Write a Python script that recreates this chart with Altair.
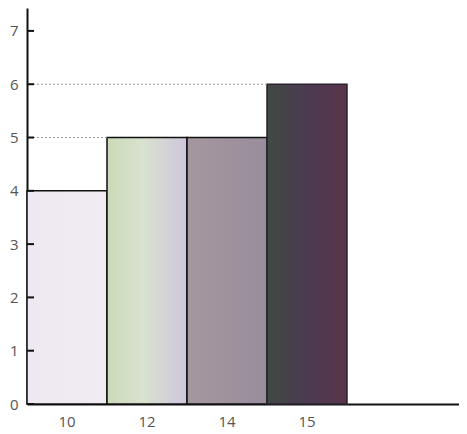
import altair as alt
import pandas as pd

# data
categories = ["10", "12", "14", "15"]
values = [4, 5, 5, 6]
y_ticks = [0, 1, 2, 3, 4, 5, 6, 7]
guide_cats = ["12", "15"]
guide_vals = [5, 6]

# styles
fills = [
    [("#eee8f2", 0), ("#f1ecf3", 1)],
    [("#cbdab8", 0), ("#d9e2cf", 0.45), ("#cfc6dd", 1)],
    [("#a4979f", 0), ("#9a8d9c", 1)],
    [("#3f4a42", 0), ("#4b3a52", 0.5), ("#5a3449", 1)],
]
strokes = ["#111", "#111", "#111", "#2a2230"]

bars_df = pd.DataFrame({"cat": categories, "val": values})
ticks_df = pd.DataFrame({"t": y_ticks})
guide_df = pd.DataFrame({"cat": guide_cats, "val": guide_vals})

FONT = "Open Sans"
xscale = alt.Scale(domain=categories, paddingInner=0, paddingOuter=0.7, align=0)
yscale = alt.Scale(domain=[0, 7.43], nice=False, zero=True)

xaxis = alt.Axis(labelFont=FONT, labelFontSize=15, labelColor="#555",
                 labelAngle=0, ticks=False, domainColor="#111",
                 domainWidth=2, labelPadding=10, grid=False)
yaxis = alt.Axis(values=y_ticks, labelFont=FONT, labelFontSize=15,
                 labelColor="#555", ticks=False, domainColor="#111",
                 domainWidth=2, labelPadding=9, grid=False)

layers = []
for i, c in enumerate(categories):
    grad = alt.Gradient(
        gradient="linear",
        stops=[alt.GradientStop(color=col, offset=off) for col, off in fills[i]],
        x1=0, x2=1, y1=0, y2=0,
    )
    layer = alt.Chart(bars_df).transform_filter(alt.datum.cat == c).mark_bar(
        fill=grad, stroke=strokes[i], strokeWidth=1.5
    ).encode(
        x=alt.X("cat:N", sort=categories, scale=xscale, title=None, axis=xaxis),
        y=alt.Y("val:Q", scale=yscale, title=None, axis=yaxis),
    )
    layers.append(layer)

guides = alt.Chart(guide_df).mark_rule(
    color="#999", strokeDash=[2, 2], strokeWidth=1
).encode(
    x=alt.X("cat:N", sort=categories, scale=xscale, bandPosition=0, title=None, axis=xaxis),
    x2=alt.value(0),
    y=alt.Y("val:Q", scale=yscale, title=None, axis=yaxis),
)

tickmarks = alt.Chart(ticks_df).mark_rule(color="#111", strokeWidth=2).encode(
    x=alt.value(0), x2=alt.value(7),
    y=alt.Y("t:Q", scale=yscale, title=None, axis=yaxis),
)

chart = alt.layer(*layers, guides, tickmarks).properties(
    width=432, height=396,
    autosize=alt.AutoSizeParams(type="none"),
    padding={"left": 19, "top": 0, "right": 0, "bottom": 26},
    view=alt.ViewBackground(stroke="transparent", strokeWidth=0),
).configure_view(strokeWidth=0, stroke="transparent").configure_axis(
    grid=False, gridColor="transparent"
).configure(background="white")

chart.save("out.html", embed_options={"renderer": "svg", "actions": False})
